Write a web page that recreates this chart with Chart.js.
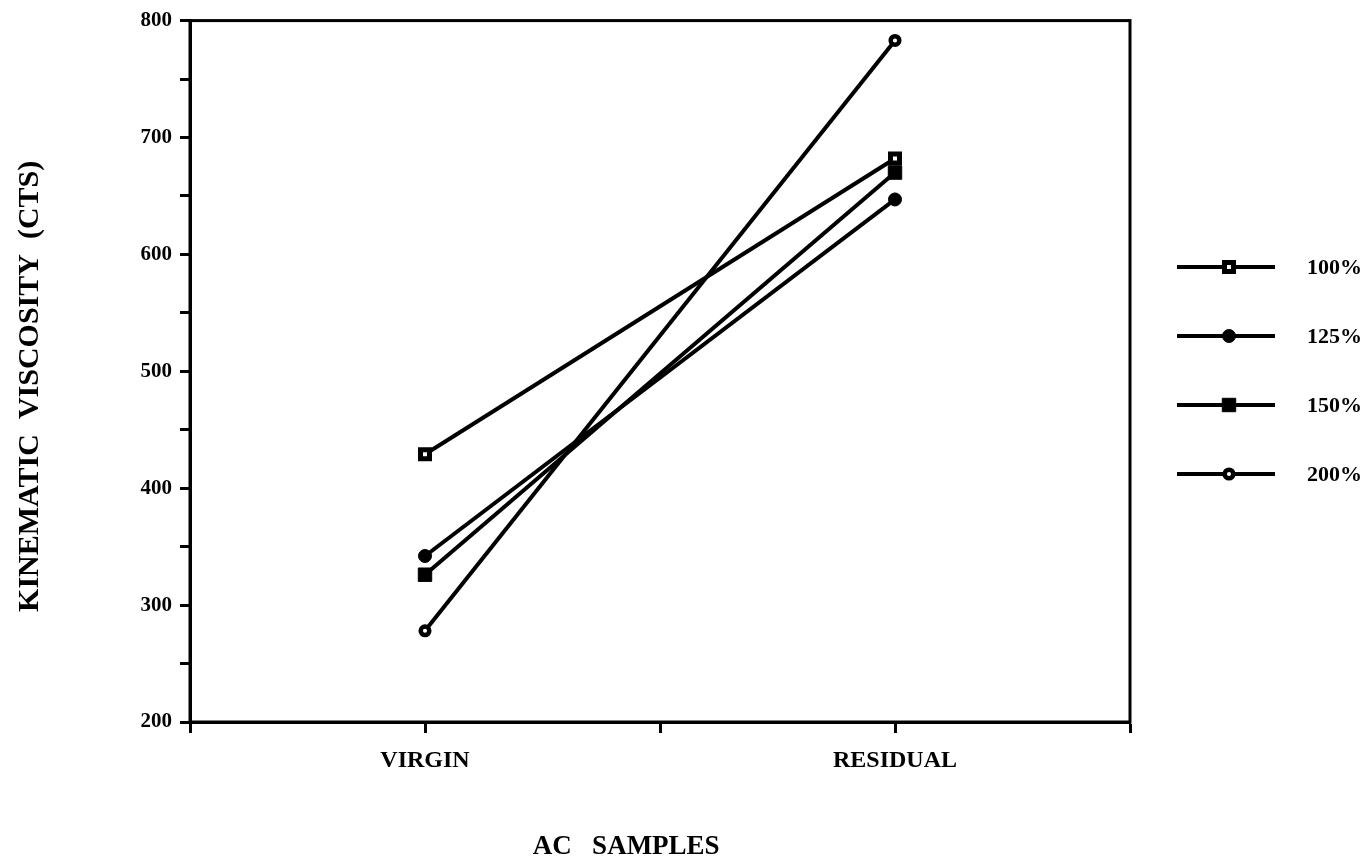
<!DOCTYPE html>
<html>
<head>
<meta charset="utf-8">
<script src="https://cdn.jsdelivr.net/npm/chart.js@4.4.0/dist/chart.umd.min.js"></script>
<style>
  html, body { margin: 0; padding: 0; background: #fff; }
  #wrap { width: 1366px; height: 866px; }
</style>
</head>
<body>
<div id="wrap"><canvas id="myChart" width="1366" height="866"></canvas></div>
<script>
// data
var categories = ['VIRGIN', 'RESIDUAL'];
var seriesNames = ['100%', '125%', '150%', '200%'];
var v100 = [429, 682];
var v125 = [342, 647];
var v150 = [326, 670];
var v200 = [278, 783];
var yTicks = [200, 300, 400, 500, 600, 700, 800];

var FONT = 'Liberation Serif';

// category i sits on x = 2i+1 of a 0..4 axis
function pts(vals) {
  return vals.map(function (v, i) { return { x: 2 * i + 1, y: v }; });
}

function ds(label, vals, style, radius, bw, bg) {
  return {
    label: label,
    data: pts(vals),
    borderColor: '#000',
    borderWidth: 4,
    tension: 0,
    pointStyle: style,
    pointRadius: radius,
    pointHoverRadius: radius,
    pointBorderWidth: bw,
    pointBorderColor: '#000',
    pointBackgroundColor: bg
  };
}

var framePlugin = {
  id: 'frame',
  beforeDatasetsDraw: function (chart) {
    var a = chart.chartArea, ctx = chart.ctx;
    ctx.save();
    ctx.strokeStyle = '#000';
    ctx.lineWidth = 3;
    ctx.strokeRect(a.left, a.top, a.right - a.left, a.bottom - a.top);
    ctx.restore();
  }
};

var sideLegend = {
  id: 'sideLegend',
  afterDraw: function (chart) {
    var ctx = chart.ctx;
    chart.data.datasets.forEach(function (d, i) {
      var y = 267 + i * 69;
      ctx.save();
      ctx.strokeStyle = '#000';
      ctx.lineWidth = 4;
      ctx.beginPath();
      ctx.moveTo(1177, y);
      ctx.lineTo(1275, y);
      ctx.stroke();
      ctx.fillStyle = d.pointBackgroundColor;
      ctx.lineWidth = d.pointBorderWidth;
      Chart.helpers.drawPoint(ctx, {
        pointStyle: d.pointStyle, radius: d.pointRadius, rotation: 0, borderWidth: d.pointBorderWidth
      }, 1229, y);
      ctx.fillStyle = '#000';
      ctx.font = 'bold 22px "' + FONT + '"';
      ctx.textAlign = 'left';
      ctx.textBaseline = 'middle';
      ctx.fillText(d.label, 1307, y + 1);
      ctx.restore();
    });
  }
};

var ctx = document.getElementById('myChart').getContext('2d');
var chart = new Chart(ctx, {
  type: 'line',
  data: {
    datasets: [
      ds(seriesNames[0], v100, 'rect', 6.4, 5, '#fff'),
      ds(seriesNames[1], v125, 'circle', 6.5, 1, '#000'),
      ds(seriesNames[2], v150, 'rect', 9.5, 1, '#000'),
      ds(seriesNames[3], v200, 'circle', 4.3, 4.5, '#fff')
    ]
  },
  options: {
    responsive: false,
    animation: false,
    devicePixelRatio: 1,
    layout: { padding: { left: 0, top: 18, right: 236, bottom: 0 } },
    plugins: {
      legend: { display: false },
      tooltip: { enabled: false }
    },
    scales: {
      x: {
        type: 'linear',
        min: 0,
        max: 4,
        border: { color: '#000', width: 3 },
        grid: { drawOnChartArea: false, tickLength: 11, tickWidth: 3, tickColor: '#000' },
        ticks: {
          stepSize: 1,
          autoSkip: false,
          maxRotation: 0,
          color: '#000',
          padding: 13,
          font: { family: FONT, size: 24, weight: 'bold' },
          callback: function (v) {
            return (v % 2 === 1) ? categories[(v - 1) / 2] : '';
          }
        },
        title: {
          display: true,
          // trailing spaces nudge the title left like the original
          text: 'AC   SAMPLES          ',
          color: '#000',
          font: { family: FONT, size: 27, weight: 'bold' },
          padding: { top: 0, bottom: 3 }
        },
        afterFit: function (s) { s.height = 144; }
      },
      y: {
        min: 200,
        max: 800,
        border: { color: '#000', width: 3 },
        grid: { drawOnChartArea: false, tickLength: 10, tickWidth: 3, tickColor: '#000' },
        ticks: {
          stepSize: 50,
          color: '#000',
          padding: 8,
          font: { family: FONT, size: 21, weight: 'bold' },
          callback: function (v) { return yTicks.indexOf(v) >= 0 ? String(v) : ''; }
        },
        title: {
          display: true,
          text: 'KINEMATIC  VISCOSITY  (CTS)    ',
          color: '#000',
          font: { family: FONT, size: 30, weight: 'bold' },
          padding: { top: 12, bottom: 0 }
        },
        afterFit: function (s) { s.width = 190; }
      }
    }
  },
  plugins: [framePlugin, sideLegend]
});
</script>
</body>
</html>
